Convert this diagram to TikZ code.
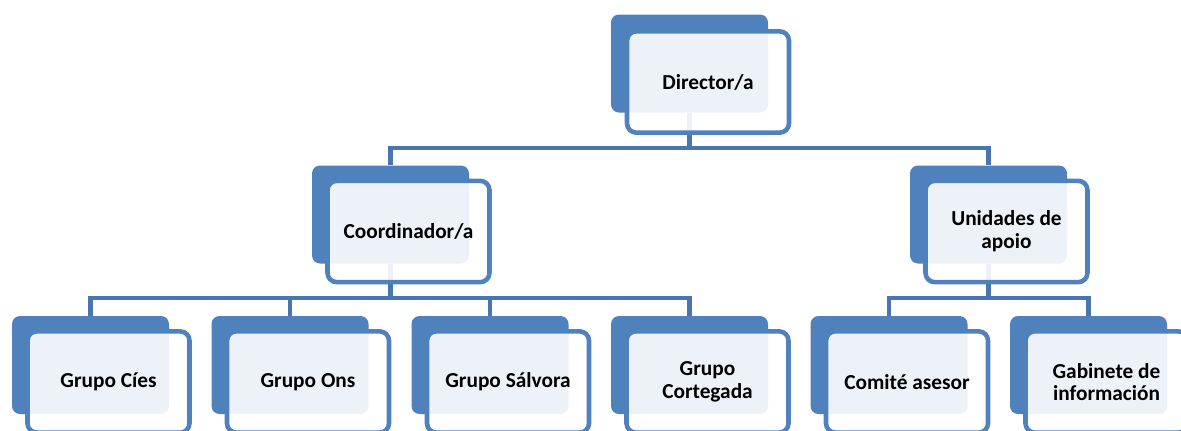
\documentclass[tikz,border=0pt]{standalone}
\usepackage{fontspec}
\setmainfont{Carlito}
\usetikzlibrary{positioning, calc, backgrounds}
\definecolor{azulCaixa}{HTML}{4F81BD}
\definecolor{azulLinha}{HTML}{4A76AF}

\begin{document}
\begin{tikzpicture}[x=0.75pt, y=-0.75pt, font=\fontsize{16}{17}\selectfont\bfseries,
        fondo/.style={fill=azulCaixa, rounded corners=6pt, minimum width=117.75pt,
            minimum height=73.5pt, inner sep=0pt},
        fronte/.style={draw=azulCaixa, line width=3.4pt, fill=white, fill opacity=0.9,
            text opacity=1, rounded corners=7pt, minimum width=121.5pt,
            minimum height=76pt, align=center, inner sep=0pt},
        conector/.style={draw=azulLinha, line width=3.6pt}]
        \clip (0,0) rectangle (1181,430);
        % nivel 1
        \node[fondo] (dir) at (689.5,63.5) {};
        \node[fronte] (dirT) at ($(dir)+(18.5,18.5)$) {Director/a};
        % nivel 2
        \node[fondo] (coord) at (390.5,214.5) {};
        \node[fronte] (coordT) at ($(coord)+(18,17)$) {Coordinador/a};
        \node[fondo] (unid) at (988.5,214.5) {};
        \node[fronte] (unidT) at ($(unid)+(18,17)$) {Unidades de\\apoio};
        % nivel 3
        \node[fondo] (cies) at (90.5,365) {};
        \node[fronte] (ciesT) at ($(cies)+(18,17)$) {Grupo Cíes};
        \node[fondo] (ons) at (290,365) {};
        \node[fronte] (onsT) at ($(ons)+(18,17)$) {Grupo Ons};
        \node[fondo] (salvora) at (490,365) {};
        \node[fronte] (salvoraT) at ($(salvora)+(18,17)$) {Grupo Sálvora};
        \node[fondo] (cortegada) at (689.5,365) {};
        \node[fronte] (cortegadaT) at ($(cortegada)+(18,17)$) {Grupo\\Cortegada};
        \node[fondo] (comite) at (889,365) {};
        \node[fronte] (comiteT) at ($(comite)+(18,17)$) {Comité asesor};
        \node[fondo] (gabinete) at (1088.5,365) {};
        \node[fronte] (gabineteT) at ($(gabinete)+(18,17)$) {Gabinete de\\información};
        % conectores
        \begin{scope}[on background layer]
            \coordinate (barraA) at (0,148);
            \coordinate (barraB) at (0,298);
            \draw[conector] (dir) -- (dir |- barraA) -| (coord.north);
            \draw[conector] (dir |- barraA) -| (unid.north);
            \foreach \g in {cies,ons,salvora,cortegada}
                \draw[conector] (coord) -- (coord |- barraB) -| (\g.north);
            \foreach \g in {comite,gabinete}
                \draw[conector] (unid) -- (unid |- barraB) -| (\g.north);
        \end{scope}
    \end{tikzpicture}
\end{document}
